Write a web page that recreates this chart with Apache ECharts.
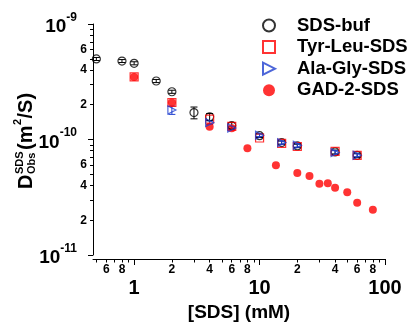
<!DOCTYPE html>
<html>
<head>
<meta charset="utf-8">
<script src="https://cdn.jsdelivr.net/npm/echarts@6/dist/echarts.min.js"></script>
<style>
  html, body { margin: 0; padding: 0; background: #fff; }
  #chart { width: 411px; height: 326px; }
</style>
</head>
<body>
<div id="chart"></div>
<script>
// concentrations in mM, diffusion coefficients in m^2/s
const sdsBufConc = [0.5, 0.8, 1, 1.5, 2, 3, 4, 6, 10, 15, 20, 40, 60];
const sdsBufD = [4.98e-10, 4.78e-10, 4.57e-10, 3.21e-10, 2.59e-10, 1.71e-10, 1.57e-10, 1.32e-10, 1.08e-10, 0.94e-10, 0.88e-10, 0.78e-10, 0.73e-10];
const sdsBufErr = [0.15e-10, 0.14e-10, 0.14e-10, 0.1e-10, 0.08e-10, 0.2e-10, 0.11e-10, 0.08e-10, 0.04e-10, 0.03e-10, 0.03e-10, 0.03e-10, 0.03e-10];

const tyrLeuConc = [1, 2, 4, 6, 10, 15, 20, 40, 60];
const tyrLeuD = [3.48e-10, 2.09e-10, 1.50e-10, 1.30e-10, 1.03e-10, 0.924e-10, 0.87e-10, 0.79e-10, 0.73e-10];

const alaGlyConc = [2, 4, 6, 10, 15, 20, 40, 60];
const alaGlyD = [1.80e-10, 1.40e-10, 1.26e-10, 1.09e-10, 0.94e-10, 0.89e-10, 0.77e-10, 0.73e-10];
const alaGlyErr = [0.15e-10, 0.05e-10, 0.04e-10, 0.03e-10, 0.03e-10, 0.03e-10, 0.03e-10, 0.02e-10];

const gadConc = [1, 2, 4, 6, 8, 13.5, 20, 25, 30, 35, 40, 50, 60, 80];
const gadD = [3.48e-10, 2.09e-10, 1.29e-10, 1.25e-10, 0.839e-10, 0.598e-10, 0.513e-10, 0.483e-10, 0.414e-10, 0.417e-10, 0.383e-10, 0.349e-10, 0.284e-10, 0.247e-10];

const xMajorTicks = [1, 10, 100];
const xMinorTicks = [0.5, 0.6, 0.7, 0.8, 0.9, 2, 3, 4, 5, 6, 7, 8, 9, 20, 30, 40, 50, 60, 70, 80, 90];
const xMinorLabels = [0.6, 0.8, 2, 4, 6, 8, 20, 40, 60, 80];
const yMajorTicks = [1e-11, 1e-10, 1e-9];
const yMinorTicks = [2e-11, 3e-11, 4e-11, 5e-11, 6e-11, 7e-11, 8e-11, 9e-11, 2e-10, 3e-10, 4e-10, 5e-10, 6e-10, 7e-10, 8e-10, 9e-10];
const yMinorLabels = [2e-11, 4e-11, 6e-11, 2e-10, 4e-10, 6e-10];

const FONT = '"Liberation Sans", Arial, sans-serif';
const RED = '#ff0000';
const BLUE = '#2040d0';

const pairs = (xs, ys) => xs.map((x, i) => [x, ys[i]]);
const mantissa = v => {
  const e = Math.floor(Math.log10(v) + 1e-9);
  return String(Math.round(v / Math.pow(10, e)));
};

function errorBars(name, xs, ys, errs, color) {
  return {
    name: name,
    type: 'custom',
    silent: true,
    data: xs.map((x, i) => [x, ys[i] - errs[i], ys[i] + errs[i]]),
    encode: { x: 0, y: [1, 2] },
    renderItem: (params, api) => {
      const lo = api.coord([api.value(0), api.value(1)]);
      const hi = api.coord([api.value(0), api.value(2)]);
      const w = 3.5;
      const style = { stroke: color, lineWidth: 1 };
      return {
        type: 'group',
        children: [
          { type: 'line', shape: { x1: lo[0], y1: lo[1], x2: hi[0], y2: hi[1] }, style: style },
          { type: 'line', shape: { x1: lo[0] - w, y1: lo[1], x2: lo[0] + w, y2: lo[1] }, style: style },
          { type: 'line', shape: { x1: hi[0] - w, y1: hi[1], x2: hi[0] + w, y2: hi[1] }, style: style }
        ]
      };
    }
  };
}

const labelBase = { color: '#000', fontWeight: 'bold', fontFamily: FONT };

const myChart = echarts.init(document.getElementById('chart'), null, { renderer: 'canvas' });
myChart.setOption({
  animation: false,
  grid: { left: 93, right: 26, top: 24, bottom: 71, containLabel: false, outerBoundsMode: 'none' },
  legend: {
    data: [
      { name: 'SDS-buf' },
      { name: 'Tyr-Leu-SDS' },
      { name: 'Ala-Gly-SDS', icon: 'path://M0,0L12,6L0,12Z' },
      { name: 'GAD-2-SDS' }
    ],
    orient: 'vertical',
    left: 257,
    top: 11,
    itemWidth: 12,
    itemHeight: 12,
    itemGap: 2.6,
    selectedMode: false,
    textStyle: { fontSize: 18.5, lineHeight: 18, padding: [0, 0, 0, 17], color: '#000', fontWeight: 'bold', fontFamily: FONT }
  },
  xAxis: [
    {
      type: 'log', logBase: 10, min: 0.47, max: 100, position: 'bottom', offset: 4,
      axisLine: { show: true, lineStyle: { color: '#000', width: 1 } },
      axisTick: { show: true, customValues: xMajorTicks, length: 6, lineStyle: { color: '#000' } },
      axisLabel: Object.assign({ customValues: xMajorTicks, fontSize: 20, margin: 19,
        formatter: v => String(Math.round(v)) }, labelBase),
      splitLine: { show: false },
      name: '[SDS] (mM)', nameLocation: 'middle', nameGap: 44,
      nameTextStyle: { fontSize: 19, color: '#000', fontWeight: 'bold', fontFamily: FONT }
    },
    {
      type: 'log', logBase: 10, min: 0.47, max: 100, position: 'bottom', offset: 4,
      axisLine: { show: false },
      axisTick: { show: true, customValues: xMinorTicks, length: 3.5, lineStyle: { color: '#000' } },
      axisLabel: Object.assign({ customValues: xMinorLabels, fontSize: 12, margin: 5, formatter: mantissa }, labelBase),
      splitLine: { show: false }
    }
  ],
  yAxis: [
    {
      type: 'log', logBase: 10, min: 1e-11, max: 1e-9, position: 'left',
      axisLine: { show: true, lineStyle: { color: '#000', width: 1 } },
      axisTick: { show: true, customValues: yMajorTicks, length: 5, lineStyle: { color: '#000' } },
      axisLabel: {
        customValues: yMajorTicks, margin: 16,
        formatter: v => '{b|10}{s|' + Math.round(Math.log10(v)) + '}',
        rich: {
          b: { fontSize: 19, fontWeight: 'bold', color: '#000', fontFamily: FONT, padding: [6, 0, 0, 0] },
          s: { fontSize: 12, fontWeight: 'bold', color: '#000', fontFamily: FONT, verticalAlign: 'top' }
        }
      },
      splitLine: { show: false }
    },
    {
      type: 'log', logBase: 10, min: 1e-11, max: 1e-9, position: 'left',
      axisLine: { show: false },
      axisTick: { show: true, customValues: yMinorTicks, length: 3, lineStyle: { color: '#000' } },
      axisLabel: Object.assign({ customValues: yMinorLabels, fontSize: 12, margin: 6, formatter: mantissa }, labelBase),
      splitLine: { show: false }
    }
  ],
  graphic: [
    {
      type: 'group', x: 33, y: 189, rotation: Math.PI / 2, silent: true,
      children: [
        { type: 'text', x: 0, y: -7, style: { text: 'D', font: 'bold 20px ' + FONT, fill: '#000', verticalAlign: 'middle', textVerticalAlign: 'middle' } },
        { type: 'text', x: 15, y: -13, style: { text: 'SDS', font: 'bold 11px ' + FONT, fill: '#000', verticalAlign: 'middle', textVerticalAlign: 'middle' } },
        { type: 'text', x: 15, y: -1, style: { text: 'Obs', font: 'bold 11px ' + FONT, fill: '#000', verticalAlign: 'middle', textVerticalAlign: 'middle' } },
        { type: 'text', x: 39, y: -7, style: { text: '(m', font: 'bold 20px ' + FONT, fill: '#000', verticalAlign: 'middle', textVerticalAlign: 'middle' } },
        { type: 'text', x: 64, y: -15, style: { text: '2', font: 'bold 11px ' + FONT, fill: '#000', verticalAlign: 'middle', textVerticalAlign: 'middle' } },
        { type: 'text', x: 70.5, y: -7, style: { text: '/S)', font: 'bold 20px ' + FONT, fill: '#000', verticalAlign: 'middle', textVerticalAlign: 'middle' } }
      ]
    }
  ],
  series: [
    {
      name: 'GAD-2-SDS', type: 'scatter', data: pairs(gadConc, gadD),
      symbol: 'circle', symbolSize: 8, itemStyle: { color: RED }
    },
    errorBars('SDS-buf error', sdsBufConc, sdsBufD, sdsBufErr, '#000'),
    {
      name: 'SDS-buf', type: 'scatter', data: pairs(sdsBufConc, sdsBufD),
      symbol: 'circle', symbolSize: 8,
      itemStyle: { color: 'rgba(255,255,255,0)', borderColor: '#000', borderWidth: 1.2 }
    },
    {
      name: 'Tyr-Leu-SDS', type: 'scatter', data: pairs(tyrLeuConc, tyrLeuD),
      symbol: 'rect', symbolSize: 8,
      itemStyle: { color: 'rgba(255,255,255,0)', borderColor: RED, borderWidth: 1.2 }
    },
    errorBars('Ala-Gly-SDS error', alaGlyConc, alaGlyD, alaGlyErr, BLUE),
    {
      name: 'Ala-Gly-SDS', type: 'scatter', data: pairs(alaGlyConc, alaGlyD),
      symbol: 'triangle', symbolRotate: -90, symbolSize: 8,
      itemStyle: { color: 'rgba(255,255,255,0)', borderColor: BLUE, borderWidth: 1.2 }
    }
  ]
});
window.addEventListener('resize', myChart.resize);
</script>
</body>
</html>
